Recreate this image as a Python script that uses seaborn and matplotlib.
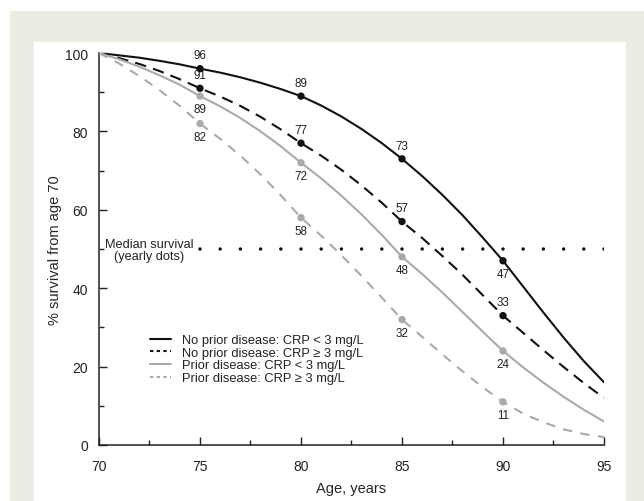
# -*- coding: utf-8 -*-

import pandas as pd
import matplotlib.pyplot as plt
import seaborn as sns
from matplotlib.lines import Line2D
from matplotlib.patches import Rectangle
from matplotlib.ticker import MultipleLocator


# 数据（从图中读取的逐年生存率）
ages = list(range(70, 96))
no_prior_low = [100, 99.4, 98.8, 98.0, 97.1, 96.0, 95.0, 93.8, 92.4, 90.8, 89.0, 86.6, 83.8,
                80.6, 77.0, 73.0, 68.6, 63.8, 58.6, 52.9, 47.0, 40.4, 33.8, 27.4, 21.4, 16.0]
no_prior_high = [100, 98.7, 97.2, 95.4, 93.3, 91.0, 88.9, 86.5, 83.7, 80.5, 77.0, 73.8, 70.2,
                 66.2, 61.8, 57.0, 52.8, 48.2, 43.4, 38.2, 33.0, 28.6, 24.2, 19.9, 15.8, 12.0]
prior_low = [100, 98.4, 96.5, 94.3, 91.9, 89.0, 86.4, 83.4, 80.0, 76.2, 72.0, 68.0, 63.6,
             58.8, 53.6, 48.0, 43.6, 38.9, 33.9, 28.9, 24.0, 19.8, 15.9, 12.3, 9.0, 6.0]
prior_high = [100, 97.3, 94.1, 90.5, 86.5, 82.0, 78.1, 73.8, 69.0, 63.7, 58.0, 53.4, 48.4,
              43.1, 37.6, 32.0, 27.6, 23.1, 18.8, 14.7, 11.0, 8.0, 5.8, 4.0, 2.8, 2.0]

labels = ['No prior disease: CRP < 3 mg/L',
          'No prior disease: CRP \u2265 3 mg/L',
          'Prior disease: CRP < 3 mg/L',
          'Prior disease: CRP \u2265 3 mg/L']
marked_ages = [75, 80, 85, 90]
median_ages = list(range(75, 96))
median_value = 50

# 样式
black = '#111111'
grey = '#aaaaaa'
styles = [
    dict(color=black, dash=None, legend_dash=None, side=[1, 1, 1, -1]),
    dict(color=black, dash=(5.5, 3.5), legend_dash=(1.6, 1.6), side=[1, 1, 1, 1]),
    dict(color=grey, dash=None, legend_dash=None, side=[-1, -1, -1, -1]),
    dict(color=grey, dash=(4.5, 4), legend_dash=(1.6, 1.6), side=[-1, -1, -1, -1]),
]

sns.set_style('ticks')
plt.rcParams['font.family'] = ['Liberation Sans', 'DejaVu Sans']
plt.rcParams['text.color'] = '#222222'

fig = plt.figure(figsize=(6.44, 5.02), dpi=100, facecolor='white')
# 米色边框 + 白色面板
fig.patches.append(Rectangle((9.5 / 644, 0), 1, 1 - 12 / 502, transform=fig.transFigure,
                             facecolor='#edece2', edgecolor='none', zorder=-10))
fig.patches.append(Rectangle((34 / 644, 0), (626 - 34) / 644, 1 - 43 / 502, transform=fig.transFigure,
                             facecolor='white', edgecolor='none', zorder=-9))

ax = fig.add_axes([99 / 644, 56 / 502, 505 / 644, 392 / 502])
ax.set_facecolor('none')

df = pd.DataFrame({'age': ages, labels[0]: no_prior_low, labels[1]: no_prior_high,
                   labels[2]: prior_low, labels[3]: prior_high})

handles = []
for lab, st in zip(labels, styles):
    sns.lineplot(x='age', y=lab, data=df, ax=ax, color=st['color'], lw=1.5, zorder=3)
    line = ax.lines[-1]
    if st['dash']:
        line.set_dashes(st['dash'])
    h = Line2D([], [], color=st['color'], lw=1.5)
    if st['legend_dash']:
        h.set_dashes(st['legend_dash'])
    handles.append(h)

    # 标记点和数值
    pts = df[df['age'].isin(marked_ages)]
    sns.scatterplot(x='age', y=lab, data=pts, ax=ax, color=st['color'], s=28,
                    edgecolor='none', zorder=4, legend=False)
    for (a, v), s in zip(pts[['age', lab]].values, st['side']):
        ax.annotate(f'{v:.0f}', (a, v), xytext=(0, 9.5 * s), textcoords='offset points',
                    ha='center', va='center', fontsize=8.4, color='#222222')

# 中位生存线（每年一个点）
sns.scatterplot(x=median_ages, y=[median_value] * len(median_ages), ax=ax, color=black,
                s=6, edgecolor='none', zorder=5, legend=False)
ax.text(72.5, 49.7, 'Median survival\n(yearly dots)', ha='center', va='center',
        fontsize=9.2, linespacing=0.95)

ax.legend(handles, labels, loc='upper left', bbox_to_anchor=(0.101, 0.283), frameon=False,
          fontsize=9.3, handlelength=1.6, handletextpad=0.85, labelspacing=0.05,
          borderaxespad=0, borderpad=0)

ax.set_xlim(70, 95)
ax.set_ylim(0, 100)
ax.xaxis.set_major_locator(MultipleLocator(5))
ax.xaxis.set_minor_locator(MultipleLocator(2.5))
ax.yaxis.set_major_locator(MultipleLocator(20))
ax.yaxis.set_minor_locator(MultipleLocator(10))
ax.tick_params(which='both', direction='in', color='#222222', width=1)
ax.tick_params(which='major', length=5.5)
ax.tick_params(which='minor', length=3.5)
ax.tick_params(axis='x', which='major', pad=10, labelsize=10, labelcolor='#222222')
ax.tick_params(axis='y', which='major', pad=8, labelsize=10, labelcolor='#222222')
sns.despine(ax=ax)
for sp in ['left', 'bottom']:
    ax.spines[sp].set_color('#222222')
    ax.spines[sp].set_linewidth(1.1)

ax.set_xlabel('Age, years', fontsize=10.5, labelpad=6)
ax.set_ylabel('% survival from age 70', fontsize=10.5, labelpad=2)

fig.savefig('out.png', dpi=100, facecolor='white')
